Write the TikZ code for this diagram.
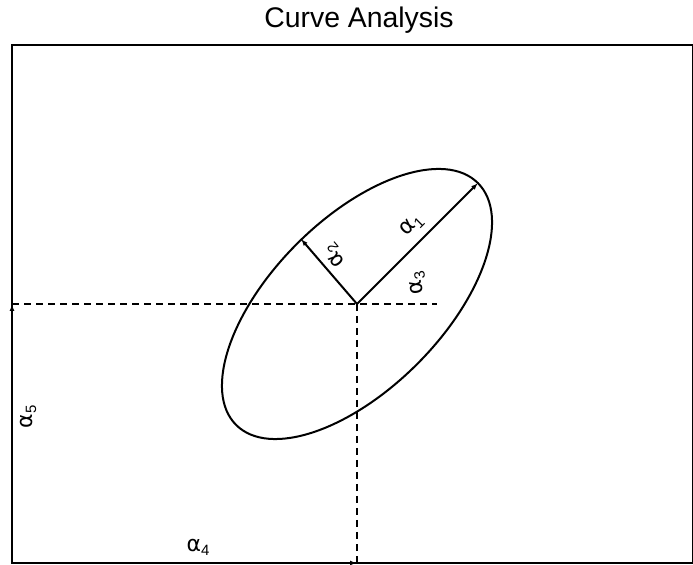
\documentclass[tikz,border=0pt]{standalone}
\usepackage{fontspec}
\setmainfont{Liberation Sans}
\newfontfamily\alfont{DejaVu Sans}
\newcommand\alab[1]{{\alfont\fontsize{22}{24}\selectfont α}\raisebox{-4bp}{\fontsize{15}{15}\selectfont #1}}
\usetikzlibrary{arrows.meta}
\begin{document}
\begin{tikzpicture}[x=1bp,y=1bp,
  frame/.style={draw=black,line width=1.2bp},
  curve/.style={draw=black,line width=2bp},
  vec/.style={draw=black,line width=2bp,-{Latex[length=7bp,width=5bp]}},
  guide/.style={draw=black,line width=1.6bp,dash pattern=on 7bp off 5bp},
  lab/.style={inner sep=0pt},
  ttl/.style={font=\fontsize{28.5}{32}\selectfont,inner sep=0pt}]
\useasboundingbox (0,0) rectangle (693,565);
\node[ttl] (title) at (359,545) {Curve Analysis};
\draw[frame] (12,2) rectangle (693,520);
\coordinate (c) at (357,261);
\coordinate (t1) at (478,382);
\coordinate (t2) at (301,326);
\coordinate (hl) at (12,261);
\coordinate (hr) at (437,261);
\coordinate (vb) at (357,2);
\coordinate (o) at (12,2);
\draw[curve,rotate around={45:(c)}] (c) ellipse [x radius=171,y radius=85];
\draw[guide] (hl) -- (hr);
\draw[guide] (c) -- (vb);
\draw[vec] (c) -- (t1);
\draw[vec] (c) -- (t2);
\draw[vec] (o) -- (hl);
\draw[vec] (o) -- (vb);
\node[lab,rotate=45] (a1) at (412,339) {\alab{1}};
\node[lab,rotate=130] (a2) at (335,310) {\alab{2}};
\node[lab,rotate=100] (a3) at (418,282) {\alab{3}};
\node[lab] (a4) at (198,18) {\alab{4}};
\node[lab,rotate=90] (a5) at (28,148) {\alab{5}};
\end{tikzpicture}
\end{document}
